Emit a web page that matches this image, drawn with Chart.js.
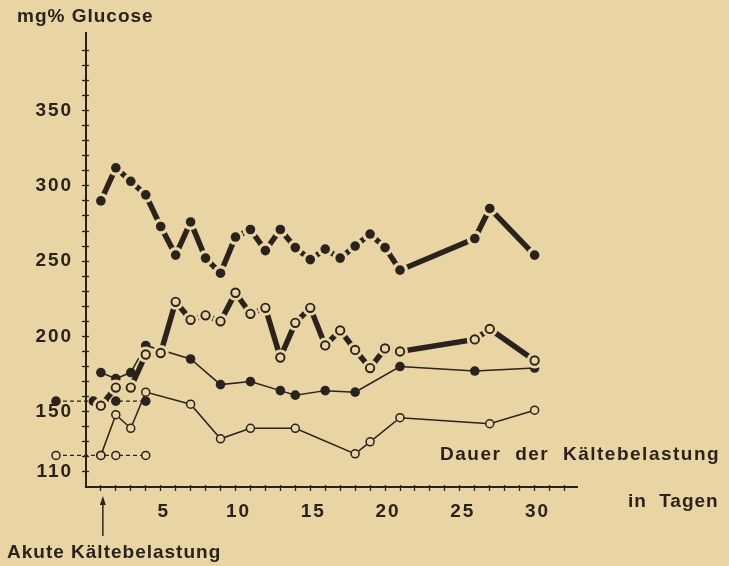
<!DOCTYPE html>
<html lang="de">
<head>
<meta charset="utf-8">
<title>mg% Glucose</title>
<script src="https://cdn.jsdelivr.net/npm/chart.js@4/dist/chart.umd.min.js"></script>
<style>
  html, body { margin: 0; padding: 0; background: #e8d5a3; }
  #wrap { position: relative; width: 729px; height: 566px; overflow: hidden; }
  #chart { position: absolute; left: 0; top: 0; }
  .label {
    position: absolute;
    font-family: "Liberation Sans", Arial, sans-serif;
    font-weight: bold;
    font-size: 19px;
    line-height: 1;
    color: #2a221c;
    white-space: nowrap;
    letter-spacing: 1px;
  }
</style>
</head>
<body>
<div id="wrap">
  <canvas id="chart" width="729" height="566"></canvas>
  <div class="label" style="left:17px; top:6px;">mg% Glucose</div>
  <div class="label" style="left:440px; top:444px; letter-spacing:1.5px; word-spacing:7px;">Dauer der Kältebelastung</div>
  <div class="label" style="left:628px; top:491px; word-spacing:6px;">in Tagen</div>
  <div class="label" style="left:7px; top:542px;">Akute Kältebelastung</div>
</div>
<script>
const INK = '#2a221c';
const PAPER = '#e8d5a3';
const NONE = 'rgba(0,0,0,0)';
const TICK_FONT = { family: '"Liberation Sans", Arial, sans-serif', size: 19, weight: 'bold' };

// days of the two thick curves
const longDays = [1, 2, 3, 4, 5, 6, 7, 8, 9, 10, 11, 12, 13, 14, 15, 16, 17, 18, 19, 20, 21, 26, 27, 30];
const topFilled = [290, 312, 303, 294, 273, 254, 276, 252, 242, 266, 271, 257, 271, 259, 251, 258, 252, 260, 268, 259, 244, 265, 285, 254];
const topOpen = [154, 166, 166, 188, 189, 223, 211, 214, 210, 229, 215, 219, 186, 209, 219, 194, 204, 191, 179, 192, 190, 198, 205, 184];

// thin curves
const midDays = [1, 2, 3, 4, 7, 9, 11, 13, 14, 16, 18, 21, 26, 30];
const midFilled = [176, 172, 176, 194, 185, 168, 170, 164, 161, 164, 163, 180, 177, 179];
const lowDays = [1, 2, 3, 4, 7, 9, 11, 14, 18, 19, 21, 27, 30];
const lowOpen = [121, 148, 139, 163, 155, 132, 139, 139, 122, 130, 146, 142, 151];

// resting values before the acute exposure (dashed)
const baseFilledDays = [-2, 0.5, 2, 4];
const baseFilled = [157, 157, 157, 157];
const baseOpenDays = [-2, 1, 2, 4];
const baseOpen = [121, 121, 121, 121];

const yLabels = [110, 150, 200, 250, 300, 350];
const xLabels = [5, 10, 15, 20, 25, 30];

function points(xs, ys) {
  return xs.map((x, i) => ({ x, y: ys[i] }));
}

// thick curve: a heavy line broken around every marker, then the markers on top
function thickSeries(xs, ys, open, order) {
  const data = points(xs, ys);
  return [
    {
      data,
      borderColor: INK,
      borderWidth: 5.5,
      borderCapStyle: 'butt',
      pointRadius: 8,
      pointBackgroundColor: PAPER,
      pointBorderWidth: 0,
      order: order + 1,
    },
    {
      data,
      showLine: false,
      pointRadius: open ? 4.2 : 4.8,
      pointBackgroundColor: open ? PAPER : INK,
      pointBorderColor: INK,
      pointBorderWidth: open ? 1.9 : 0,
      order,
    },
  ];
}

function thinSeries(xs, ys, open, order, dash) {
  return {
    data: points(xs, ys),
    borderColor: INK,
    borderWidth: dash ? 1.3 : 1.5,
    borderDash: dash ? [4, 3] : [],
    pointRadius: open ? 4 : 4.8,
    pointBackgroundColor: open ? PAPER : INK,
    pointBorderColor: INK,
    pointBorderWidth: open ? 1.5 : 0,
    order,
  };
}

// x axis line starts at day 0, where the y axis stands
const dayAxis = {
  id: 'dayAxis',
  beforeDatasetsDraw(chart) {
    const { ctx, scales, chartArea } = chart;
    ctx.save();
    ctx.strokeStyle = INK;
    ctx.lineWidth = 2;
    ctx.beginPath();
    ctx.moveTo(scales.x.getPixelForValue(0) - 1, scales.y.getPixelForValue(100));
    ctx.lineTo(chartArea.right + 3, scales.y.getPixelForValue(100));
    ctx.stroke();
    ctx.restore();
  },
};

// arrow under the x axis marking the acute exposure on day 1
const exposureArrow = {
  id: 'exposureArrow',
  afterDraw(chart) {
    const { ctx, scales } = chart;
    const x = scales.x.getPixelForValue(1) + 2;
    const tip = 496;
    const tail = 536;
    ctx.save();
    ctx.strokeStyle = INK;
    ctx.fillStyle = INK;
    ctx.lineWidth = 1.5;
    ctx.beginPath();
    ctx.moveTo(x, tail);
    ctx.lineTo(x, tip + 6);
    ctx.stroke();
    ctx.beginPath();
    ctx.moveTo(x, tip);
    ctx.lineTo(x - 3, tip + 9);
    ctx.lineTo(x + 3, tip + 9);
    ctx.closePath();
    ctx.fill();
    ctx.restore();
  },
};

const spacedText = {
  id: 'spacedText',
  beforeDraw(chart) {
    chart.ctx.letterSpacing = '2px';
  },
};

const dayRange = { min: -2.4, max: 32.7 };
const glucoseRange = { min: 100, max: 401.5 };

// tick marks only: placed just off the axis lines so that they cross them
const tickMarks = (length, color) => ({
  border: { display: false },
  grid: { drawOnChartArea: false, tickLength: length, tickWidth: 1.3, tickColor: color },
  ticks: { stepSize: 1, includeBounds: false, autoSkip: false, maxRotation: 0, callback: () => '' },
});

new Chart(document.getElementById('chart'), {
  type: 'line',
  data: {
    datasets: [
      ...thickSeries(longDays, topFilled, false, 1),
      ...thickSeries(longDays, topOpen, true, 3),
      thinSeries(midDays, midFilled, false, 6),
      thinSeries(lowDays, lowOpen, true, 6),
      thinSeries(baseFilledDays, baseFilled, false, 7, true),
      thinSeries(baseOpenDays, baseOpen, true, 7, true),
    ].map((ds) => ({ ...ds, clip: false, tension: 0 })),
  },
  options: {
    responsive: false,
    animation: false,
    events: [],
    layout: { padding: { left: 50, top: 33, right: 154, bottom: 0 } },
    plugins: {
      legend: { display: false },
      tooltip: { enabled: false },
    },
    scales: {
      x: {
        type: 'linear',
        position: 'bottom',
        ...dayRange,
        border: { display: false },
        grid: { display: false },
        ticks: {
          stepSize: 1,
          includeBounds: false,
          autoSkip: false,
          maxRotation: 0,
          padding: 5,
          labelOffset: 3,
          color: INK,
          font: TICK_FONT,
          callback: (value) => (xLabels.includes(value) ? String(value) : ''),
        },
        afterFit(scale) { scale.height = 79; },
      },
      xMarks: {
        type: 'linear',
        position: { y: 101.4 },
        ...dayRange,
        ...tickMarks(6, (ctx) => (ctx.tick && ctx.tick.value < 1 ? NONE : INK)),
      },
      // the y axis line, standing at day 0
      y: {
        position: { x: 0 },
        ...glucoseRange,
        border: { color: INK, width: 2 },
        grid: { display: false },
        ticks: { stepSize: 10, includeBounds: false, autoSkip: false, callback: () => '' },
      },
      yMarks: {
        position: { x: 0.2 },
        ...glucoseRange,
        ...tickMarks(7, (ctx) => (ctx.tick && (ctx.tick.value < 110 || ctx.tick.value > 390) ? NONE : INK)),
        ticks: { stepSize: 10, includeBounds: false, autoSkip: false, callback: () => '' },
      },
      // the numbers of the y axis, set a little to the left of the line
      yText: {
        position: { x: -0.85 },
        ...glucoseRange,
        border: { display: false },
        grid: { display: false },
        ticks: {
          stepSize: 10,
          includeBounds: false,
          autoSkip: false,
          color: INK,
          font: TICK_FONT,
          callback: (value) => (yLabels.includes(value) ? String(value) : ''),
        },
      },
    },
  },
  plugins: [spacedText, dayAxis, exposureArrow],
});
</script>
</body>
</html>
